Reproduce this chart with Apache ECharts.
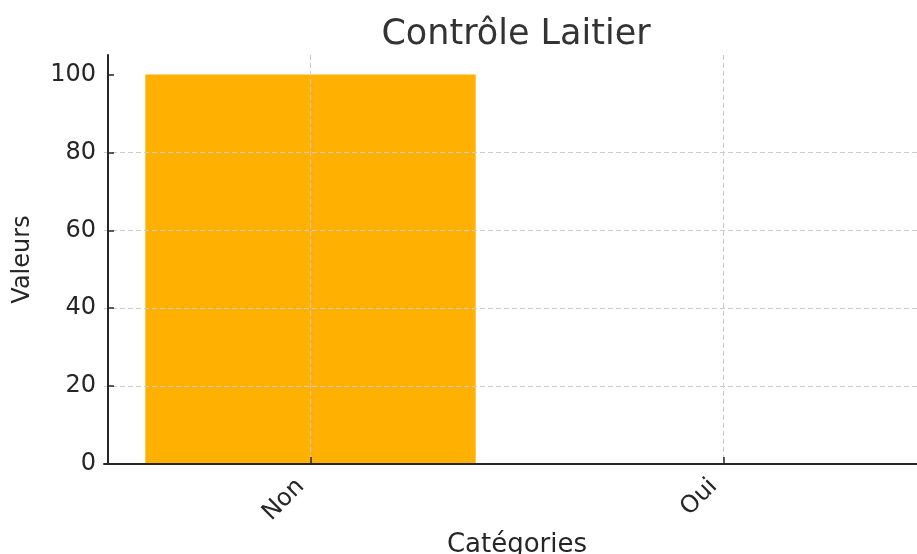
<!DOCTYPE html>
<html>
<head>
<meta charset="utf-8">
<script src="https://cdn.jsdelivr.net/npm/echarts@6/dist/echarts.min.js"></script>
<style>
html,body{margin:0;padding:0;background:#fff;}
#chart{width:917px;height:554px;}
</style>
</head>
<body>
<div id="chart"></div>
<script>
const titleText = 'Contrôle Laitier';
const categories = ['Non', 'Oui'];
const values = [100, 0];
const yTicks = [0, 20, 40, 60, 80, 100];
const xName = 'Catégories';
const yName = 'Valeurs';

const FONT = '"DejaVu Sans", sans-serif';
const chart = echarts.init(document.getElementById('chart'), null, {renderer: 'canvas'});
chart.setOption({
  backgroundColor: '#ffffff',
  animation: false,
  title: {
    text: titleText,
    left: 516,
    top: 17,
    padding: 0,
    textAlign: 'center',
    textStyle: {fontFamily: FONT, fontSize: 35, fontWeight: 'normal', color: '#333333'}
  },
  grid: {left: 104, right: -13, top: 55, bottom: 90, containLabel: false, outerBoundsMode: 'none'},
  xAxis: {
    type: 'category',
    data: categories,
    z: 10,
    name: xName,
    nameLocation: 'middle',
    nameGap: 68,
    nameTextStyle: {fontFamily: FONT, fontSize: 26, color: '#262626'},
    axisLine: {show: true, lineStyle: {color: '#262626', width: 2}},
    axisTick: {show: true, inside: true, alignWithLabel: true, length: 7, lineStyle: {color: '#262626', width: 1.5}},
    axisLabel: {rotate: 45, margin: 9, padding: [0, 14, 0, 0], fontFamily: FONT, fontSize: 24, color: '#262626'},
    splitLine: {show: true, alignWithLabel: true, lineStyle: {color: '#cccccc', width: 1, type: [5, 3]}}
  },
  yAxis: {
    type: 'value',
    min: 0,
    max: 105,
    interval: 20,
    z: 10,
    offset: -4,
    name: yName,
    nameLocation: 'middle',
    nameGap: 73,
    nameTextStyle: {fontFamily: FONT, fontSize: 24, color: '#262626'},
    axisLine: {show: true, lineStyle: {color: '#262626', width: 2}},
    axisTick: {show: true, inside: true, length: 6, customValues: yTicks, lineStyle: {color: '#262626', width: 1.5}},
    axisLabel: {margin: 12, fontFamily: FONT, fontSize: 24, color: '#262626', customValues: yTicks},
    splitLine: {show: true, showMaxLine: false, showMinLine: false, lineStyle: {color: '#cccccc', width: 1, type: [5, 3]}}
  },
  series: [{
    type: 'bar',
    data: values,
    barWidth: '80%',
    itemStyle: {color: '#FFB000'},
    z: 2
  }]
});
</script>
</body>
</html>
